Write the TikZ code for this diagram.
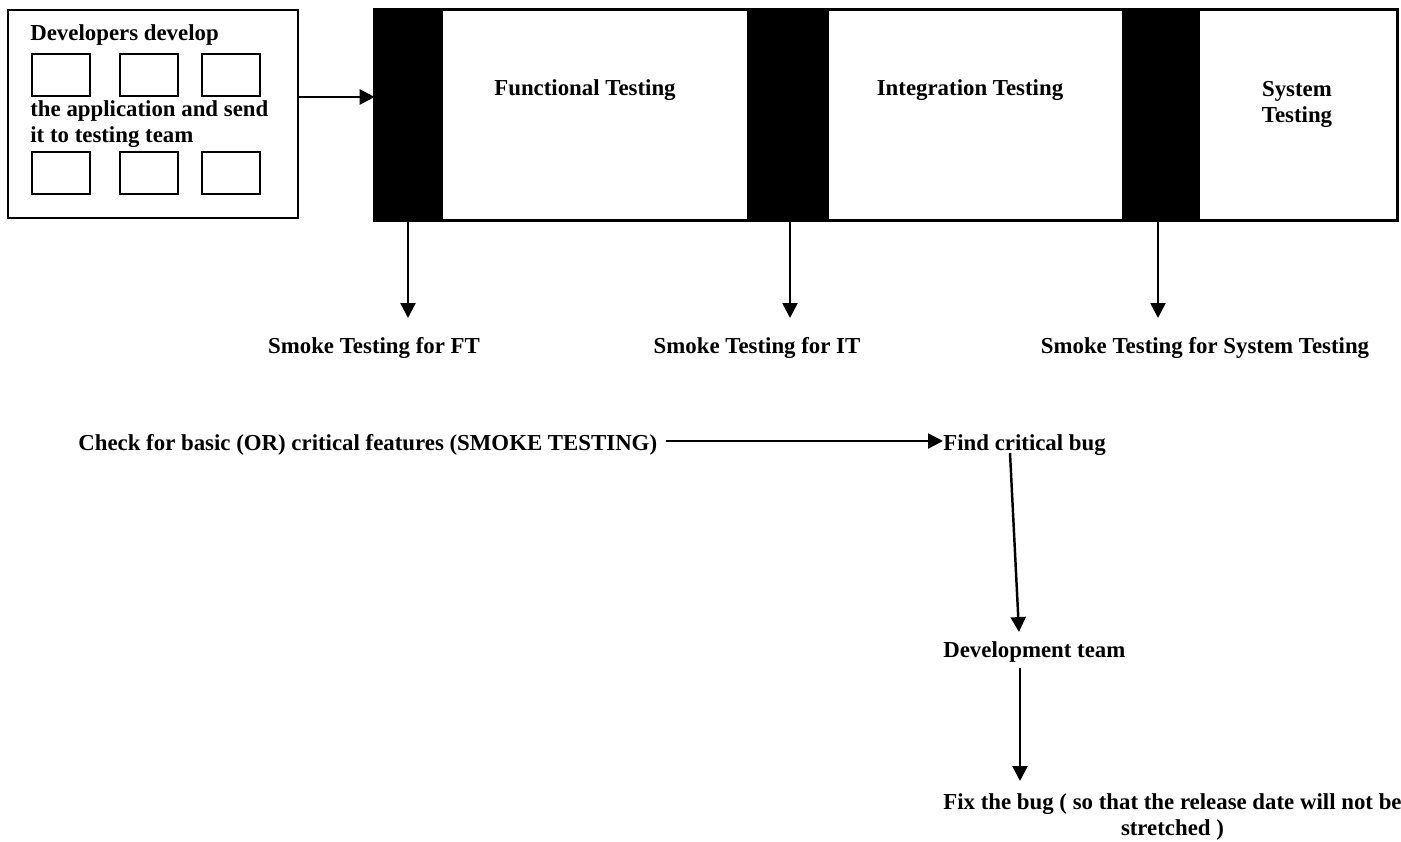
\documentclass[tikz,border=0pt]{standalone}
\usepackage{fontspec}
\setmainfont{Liberation Serif}
\usetikzlibrary{arrows.meta,calc}
\begin{document}
\begin{tikzpicture}[x=0.02cm,y=-0.02cm,
  every node/.style={font=\fontsize{13}{14.7}\selectfont\bfseries},
  frame/.style={draw,line width=1.2pt,inner sep=0pt},
  smallbox/.style={frame,minimum width=1.16cm,minimum height=0.84cm},
  bar/.style={fill=black,draw=none,inner sep=0pt,minimum height=4.2cm},
  conn/.style={line width=1.4pt,-{Triangle[length=8.5pt,width=8.5pt]}},
  txt/.style={inner sep=0pt}]
\useasboundingbox (0,0) rectangle (1401,842);
% developer box
\node[frame,minimum width=5.8cm,minimum height=4.16cm] (dev) at (153,114) {};
\foreach \i/\x in {1/61,2/149,3/231}{
  \node[smallbox] (t\i) at (\x,75) {};
  \node[smallbox] (b\i) at (\x,173) {};
}
\node[txt,anchor=base west] (devtxt1) at (30,40) {Developers develop};
\node[txt,anchor=base west,align=left] (devtxt2) at (30,142) {the application and send\\it to testing team};
% testing box
\node[frame,minimum width=20.44cm,minimum height=4.2cm] (big) at (886,115) {};
\node[bar,minimum width=1.36cm] (bar1) at (409,115) {};
\node[bar,minimum width=1.64cm] (bar2) at (788,115) {};
\node[bar,minimum width=1.56cm] (bar3) at (1161,115) {};
\draw[line width=1.2pt] (big.north west) rectangle (big.south east);
\node[txt,anchor=base] (ft) at (585,95) {Functional Testing};
\node[txt,anchor=base] (it) at (970,95) {Integration Testing};
\node[txt,anchor=base,align=center] (st) at (1297,122) {System\\Testing};
% arrow dev -> testing
\coordinate (devout) at (dev.east |- 0,97);
\draw[conn] (devout) -- (bar1.west |- devout);
% smoke labels
\node[txt,anchor=base] (sft) at (374,353) {Smoke Testing for FT};
\node[txt,anchor=base] (sit) at (757,353) {Smoke Testing for IT};
\node[txt,anchor=base] (sst) at (1205,353) {Smoke Testing for System Testing};
\draw[conn] (bar1.south -| 408,0) -- (408,318);
\draw[conn] (bar2.south -| 790,0) -- (790,318);
\draw[conn] (bar3.south -| 1158,0) -- (1158,318);
% lower flow
\node[txt,anchor=base west] (check) at (78,450) {Check for basic (OR) critical features (SMOKE TESTING)};
\node[txt,anchor=base west] (find) at (943,450) {Find critical bug};
\node[txt,anchor=base west] (devteam) at (943,657) {Development team};
\node[txt,anchor=base west,align=center] (fix) at (943,835) {Fix the bug ( so that the release date will not be\\stretched )};
\draw[conn] ([xshift=5pt]check.east |- 0,441) -- (find.west |- 0,441);
\draw[conn] (1010,453) -- (1019,632);
\draw[conn] (1020,668) -- (1020,781);
\end{tikzpicture}
\end{document}
